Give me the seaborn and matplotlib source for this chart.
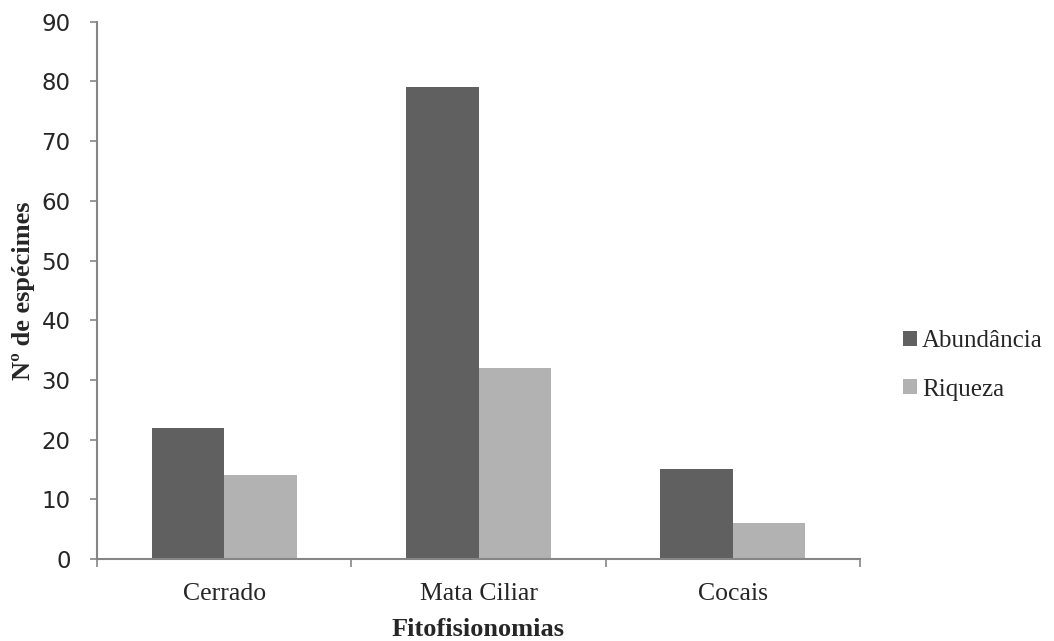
import pandas as pd
import matplotlib.pyplot as plt
import seaborn as sns

categorias = ["Cerrado", "Mata Ciliar", "Cocais"]
abundancia = [22, 79, 15]
riqueza = [14, 32, 6]
series = ["Abundância", "Riqueza"]
cores = ["#606060", "#b2b2b2"]

df = pd.DataFrame({
    "Fitofisionomia": categorias * 2,
    "Serie": [series[0]] * 3 + [series[1]] * 3,
    "Valor": abundancia + riqueza,
})

sns.set_style("white")
serif = ["Liberation Serif", "DejaVu Serif"]

fig = plt.figure(figsize=(10.54, 6.41), dpi=100)
ax = fig.add_axes([0.092, 0.128, 0.724, 0.838])

sns.barplot(
    data=df,
    x="Fitofisionomia",
    y="Valor",
    hue="Serie",
    palette=cores,
    width=0.57,
    saturation=1,
    linewidth=0,
    ax=ax,
)

ax.set_ylim(0, 90)
ax.set_xlim(-0.5, 2.5)
ax.set_yticks(range(0, 91, 10))
ax.tick_params(axis="y", labelsize=16.5, length=5, width=1.2, color="#868686", direction="out", left=True, pad=14)

# ticks nas divisas das categorias, rótulos no centro
ax.set_xticks([-0.5, 0.5, 1.5, 2.5])
ax.set_xticklabels([])
ax.set_xticks([0, 1, 2], minor=True)
ax.set_xticklabels(categorias, minor=True, fontsize=18.5, family=serif)
ax.tick_params(axis="x", which="major", length=6, width=1.2, color="#868686", direction="out", bottom=True)
ax.tick_params(axis="x", which="minor", length=0, pad=17)

for lado in ["top", "right"]:
    ax.spines[lado].set_visible(False)
for lado in ["left", "bottom"]:
    ax.spines[lado].set_color("#868686")
    ax.spines[lado].set_linewidth(1.5)

ax.set_xlabel("Fitofisionomias", fontsize=19, fontweight="bold", family=serif, labelpad=10)
ax.set_ylabel("Nº de espécimes", fontsize=19, fontweight="bold", family=serif, labelpad=5)

handles, labels = ax.get_legend_handles_labels()
ax.legend(
    handles, labels,
    loc="center left",
    bbox_to_anchor=(1.027, 0.36),
    frameon=False,
    prop={"family": serif, "size": 18},
    handlelength=0.55,
    handleheight=0.55,
    handletextpad=0.2,
    labelspacing=1.05,
)

fig.savefig("out.png", dpi=100)
